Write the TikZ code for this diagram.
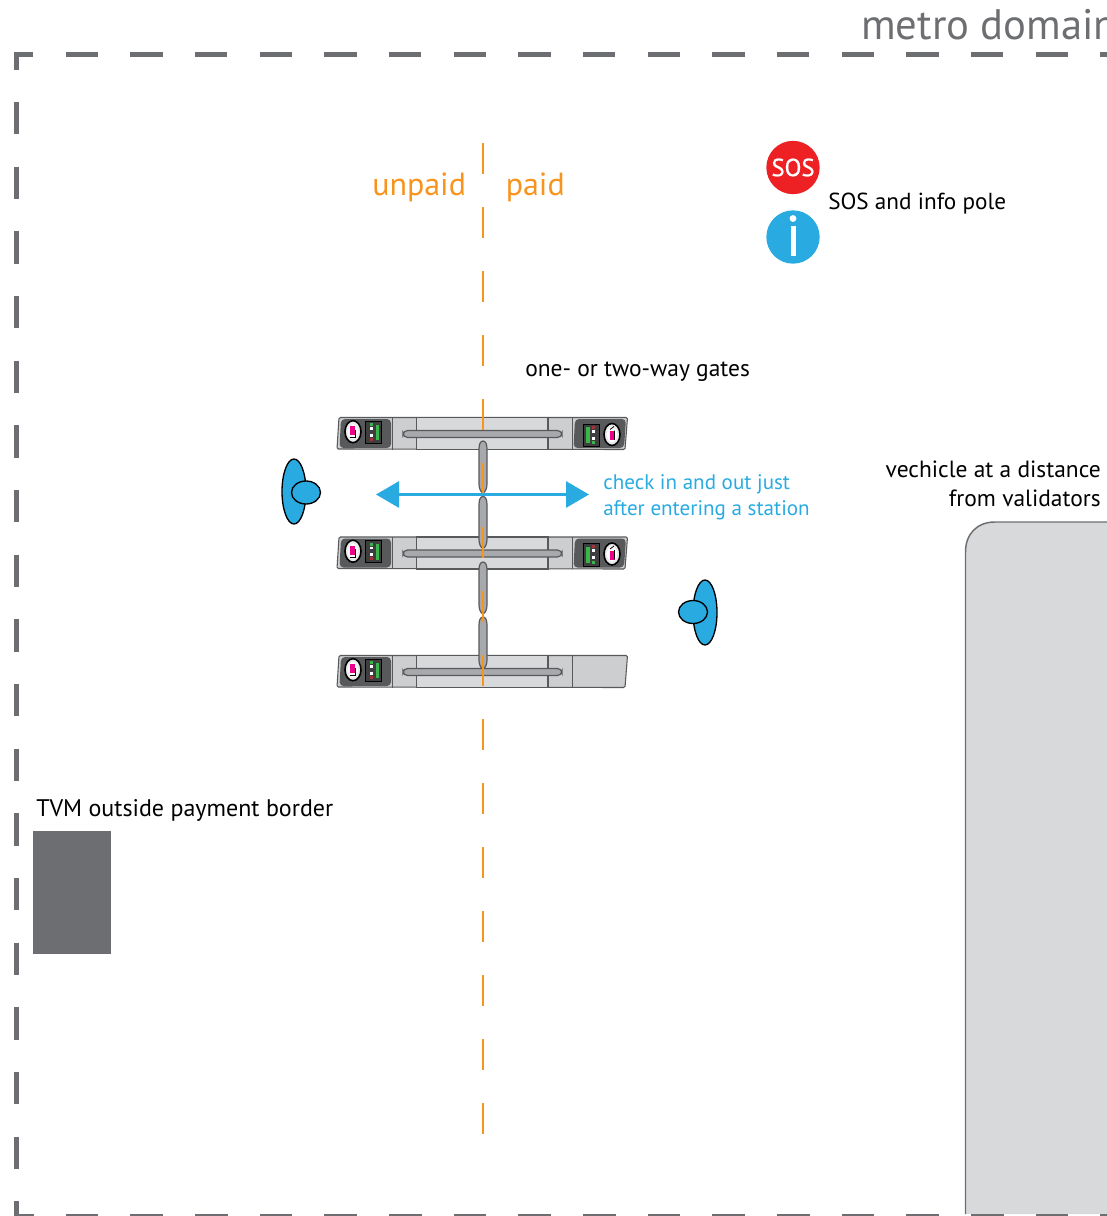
\documentclass[tikz,border=0pt]{standalone}
\usepackage{fontspec}
\setmainfont{PT Sans}
\newfontfamily\sosfont[FakeBold=0.9]{PT Sans}
\usetikzlibrary{arrows.meta,shapes.geometric}
\definecolor{bordergrey}{HTML}{6D6E71}
\definecolor{darkpanel}{HTML}{58595B}
\definecolor{sidegrey}{HTML}{CDCED0}
\definecolor{midgrey}{HTML}{D8D9DB}
\definecolor{bargrey}{HTML}{A7A9AC}
\definecolor{metroorange}{HTML}{F7941D}
\definecolor{metroblue}{HTML}{29ABE2}
\definecolor{sosred}{HTML}{ED2024}
\definecolor{pinksign}{HTML}{EC008C}
\definecolor{greenled}{HTML}{39B54A}
\definecolor{redled}{HTML}{A8323A}
\tikzset{
  x=0.75pt,y=-0.75pt,
  domainline/.style={draw=bordergrey,line width=4.1pt,dash pattern=on 24.3pt off 24.2pt},
  paymentline/.style={draw=metroorange,line width=2.2pt,dash pattern=on 23.25pt off 24.75pt},
  label/.style={inner sep=0pt,anchor=base west,font=\fontsize{17.6pt}{21pt}\selectfont},
  labelr/.style={inner sep=0pt,anchor=base east,font=\fontsize{17.6pt}{21pt}\selectfont},
  person/.style={draw=black,line width=1pt,fill=metroblue},
  paddle/.style={draw=darkpanel,line width=0.9pt,fill=bargrey},
  gateline/.style={draw=darkpanel,line width=0.8pt},
  readerbox/.style={fill=darkpanel!70!black,draw=black,line width=0.6pt},
  readerdial/.style={fill=black!8,draw=black,line width=1.2pt},
  gatebody/.pic={
    \path[fill=sidegrey,gateline,rounded corners=1pt] (339,0) -- (627.5,0) -- (625,32) -- (337,31.5) -- cycle;
    \path[fill=midgrey,gateline] (416.7,0) rectangle (548,32);
    \path[gateline] (392.5,0) -- (392.5,32);
    \path[gateline] (572.5,0) -- (572.5,32);
    \path[fill=bargrey,draw=darkpanel,line width=0.9pt,rounded corners=3.4pt] (403,13) rectangle (562,20);
  },
  leftreader/.pic={
    \path[fill=darkpanel,rounded corners=3pt] (341,1.5) -- (391,1.5) -- (391,30.5) -- (339.5,30.5) -- cycle;
    \path[readerdial] (353,14.2) ellipse [x radius=8,y radius=11];
    \path[fill=white] (353,14.2) ellipse [x radius=5,y radius=7.5];
    \path[fill=pinksign] (350,8.5) rectangle (355,17.5);
    \path[draw=black,line width=0.6pt] (355,12) -- (355,20) -- (350,20);
    \path[readerbox] (365.7,3.5) rectangle (381.7,25.5);
    \path[fill=greenled] (376,7) rectangle (379,22.5);
    \path[fill=greenled] (369.5,5.5) rectangle (372.5,8.5);
    \path[fill=white] (369.5,9.5) rectangle (372.5,12);
    \path[fill=white] (369.5,16) rectangle (372.5,19);
    \path[fill=redled] (369.5,20) rectangle (372.5,23);
  },
  rightreader/.pic={
    \path[fill=darkpanel,rounded corners=3pt] (575,1.5) -- (626,1.5) -- (624,30.5) -- (573.5,30.5) -- cycle;
    \path[readerdial] (612,17) ellipse [x radius=8,y radius=11];
    \path[fill=white] (612,17) ellipse [x radius=5,y radius=7.5];
    \path[fill=pinksign] (609.5,13.5) rectangle (614.5,22.5);
    \path[draw=black,line width=0.6pt] (610,12) -- (614,9) (614.5,13) -- (614.5,22);
    \path[readerbox] (583,6.5) rectangle (599,29);
    \path[fill=greenled] (585.5,9.5) rectangle (589.5,25.5);
    \path[fill=redled] (591.5,8) rectangle (594.5,11);
    \path[fill=white] (591.5,12) rectangle (594.5,15);
    \path[fill=white] (591.5,19) rectangle (594.5,22);
    \path[fill=greenled] (591.5,23.5) rectangle (594.5,26.5);
  },
  gatepaddle/.pic={
    \path[paddle] (483,0) .. controls (485.5,0) and (487,3) .. (487,8) -- (487,43) .. controls (487,47) and (485.5,51) .. (483,52) .. controls (480.5,51) and (479,47) .. (479,43) -- (479,8) .. controls (479,3) and (480.5,0) .. (483,0) -- cycle;
  }
}
\begin{document}
\begin{tikzpicture}
\useasboundingbox (0,0) rectangle (1106,1216);
% vehicle
\path[fill=midgrey] (1110,522) -- (995,522) .. controls (977,522) and (965.5,534) .. (965.5,552) -- (965.5,1214) -- (1110,1214) -- cycle;
\draw[bordergrey,line width=1.1pt] (1110,522) -- (995,522) .. controls (977,522) and (965.5,534) .. (965.5,552) -- (965.5,1214);
% border
\path[domainline] (16.3,69.8) -- (16.3,54.5) -- (1120,54.5);
\path[domainline] (16.3,102) -- (16.3,1216.5) -- (1120,1216.5);
% TVM
\path[fill=bordergrey] (33,831) rectangle (111,954);
% gates
\pic at (0,417.5) {gatebody};
\pic at (0,417.5) {leftreader};
\pic at (0,417.5) {rightreader};
\pic at (0,537) {gatebody};
\pic at (0,537) {leftreader};
\pic at (0,537) {rightreader};
\pic at (0,655.5) {gatebody};
\pic at (0,655.5) {leftreader};
\pic at (0,441) {gatepaddle};
\pic at (0,496.5) {gatepaddle};
\pic at (0,562) {gatepaddle};
\pic at (0,617) {gatepaddle};
% payment border
\coordinate (paytop) at (483,143);
\coordinate (paybottom) at (483,1135);
\path[paymentline] (paytop) -- (paybottom);
% walking direction
\coordinate (walkleft) at (376,494.5);
\coordinate (walkright) at (589,494.5);
\draw[metroblue,line width=2.2pt,{Triangle[length=17.25pt,width=19.5pt]}-{Triangle[length=17.25pt,width=19.5pt]}] (walkleft) -- (walkright);
% people
\path[person] (294,491.5) ellipse [x radius=12,y radius=32.5];
\path[person] (306,492.5) ellipse [x radius=14.5,y radius=11.5];
\path[person] (705,612.5) ellipse [x radius=12,y radius=32.5];
\path[person] (693,612) ellipse [x radius=14.5,y radius=11.5];
% poles
\node[circle,fill=sosred,minimum size=40pt,inner sep=0pt,text=white,font=\fontsize{18.5pt}{20pt}\sosfont] (sos) at (793,167.5) {SOS};
\node[circle,fill=metroblue,minimum size=40pt,inner sep=0pt] (info) at (793,237) {};
\path[fill=white] (793,218.5) circle [radius=3.4];
\path[fill=white] (790.5,226) rectangle (795.5,256);
% texts
\node[inner sep=0pt,anchor=base west,text=bordergrey,font=\fontsize{32pt}{36pt}\selectfont] (domain) at (861,40) {metro domain};
\node[label,text=metroorange,font=\fontsize{24pt}{28pt}\selectfont] (unpaid) at (372,196) {unpaid};
\node[label,text=metroorange,font=\fontsize{24pt}{28pt}\selectfont] (paid) at (505.5,196) {paid};
\node[label,font=\fontsize{17.4pt}{21pt}\selectfont] (soslabel) at (828,209.5) {SOS and info pole};
\node[label] (gates) at (525,376) {one- or two-way gates};
\node[label,text=metroblue,font=\fontsize{15.8pt}{20pt}\selectfont] (check1) at (603,489) {check in and out just};
\node[label,text=metroblue,font=\fontsize{15.8pt}{20pt}\selectfont] (check2) at (603,515) {after entering a station};
\node[labelr] (veh1) at (1101,477) {vechicle at a distance};
\node[labelr] (veh2) at (1101,506) {from validators};
\node[label,font=\fontsize{18pt}{21pt}\selectfont] (tvm) at (36,816) {TVM outside payment border};
\end{tikzpicture}
\end{document}
